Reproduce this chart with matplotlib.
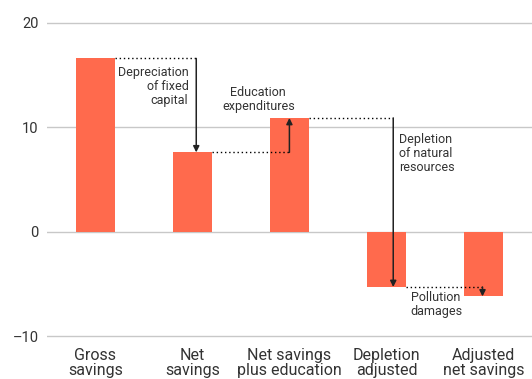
import matplotlib.pyplot as plt

# savings components, % of GNI
categories = ['Gross\nsavings', 'Net\nsavings', 'Net savings\nplus education\nexpenditures',
              'Depletion\nadjusted\nsavings', 'Adjusted\nnet savings']
values = [16.6, 7.6, 10.9, -5.3, -6.2]
steps = ['Depreciation\nof fixed\ncapital', 'Education\nexpenditures',
         'Depletion\nof natural\nresources', 'Pollution\ndamages']
yticks = [-10, 0, 10, 20]

bar_color = '#FF6A4D'
text_color = '#333333'
plt.rcParams['font.family'] = ['Roboto', 'DejaVu Sans']

fig = plt.figure(figsize=(5.32, 3.79), dpi=100)
ax = fig.add_axes([0.088, 0.105, 0.912, 0.895])

x = range(len(values))
ax.bar(x, values, width=0.4, color=bar_color, zorder=3)

ax.set_xlim(-0.5, 4.5)
ax.set_ylim(-10.3, 22.2)
ax.set_yticks(yticks)
ax.set_yticklabels([str(t) if t >= 0 else '\u2013' + str(-t) for t in yticks])
ax.grid(axis='y', color='#C8C8C8', lw=1, zorder=0)
ax.set_xticks(list(x))
ax.set_xticklabels(categories, va='top', linespacing=1.05)
ax.tick_params(axis='both', length=0, colors=text_color)
ax.tick_params(axis='x', pad=6, labelsize=11.5)
ax.tick_params(axis='y', pad=6, labelsize=10.5)
for s in ax.spines.values():
    s.set_visible(False)

# connectors between bars: dotted level line + arrow to the next bar
arrow_x = [1.04, 2.0, 3.07, 3.99]
for i in range(4):
    y0, y1 = values[i], values[i + 1]
    ax.plot([i + 0.2, arrow_x[i]], [y0, y0], ls=(0, (1, 2)), color='black', lw=1, zorder=4)
    ax.annotate('', xy=(arrow_x[i], y1), xytext=(arrow_x[i], y0),
                arrowprops=dict(arrowstyle='-|>', color='#222222', lw=1.1,
                                mutation_scale=9, shrinkA=0, shrinkB=0), zorder=5)

fs = 9
ax.text(0.96, 15.9, steps[0], ha='right', va='top', fontsize=fs, color=text_color, linespacing=1.1)
ax.text(1.68, 11.4, steps[1], ha='center', va='bottom', fontsize=fs, color=text_color, linespacing=1.1)
ax.text(3.13, 9.5, steps[2], ha='left', va='top', fontsize=fs, color=text_color, linespacing=1.1)
ax.text(3.25, -5.7, steps[3], ha='left', va='top', fontsize=fs, color=text_color, linespacing=1.1)

fig.savefig('out.png', dpi=100)
